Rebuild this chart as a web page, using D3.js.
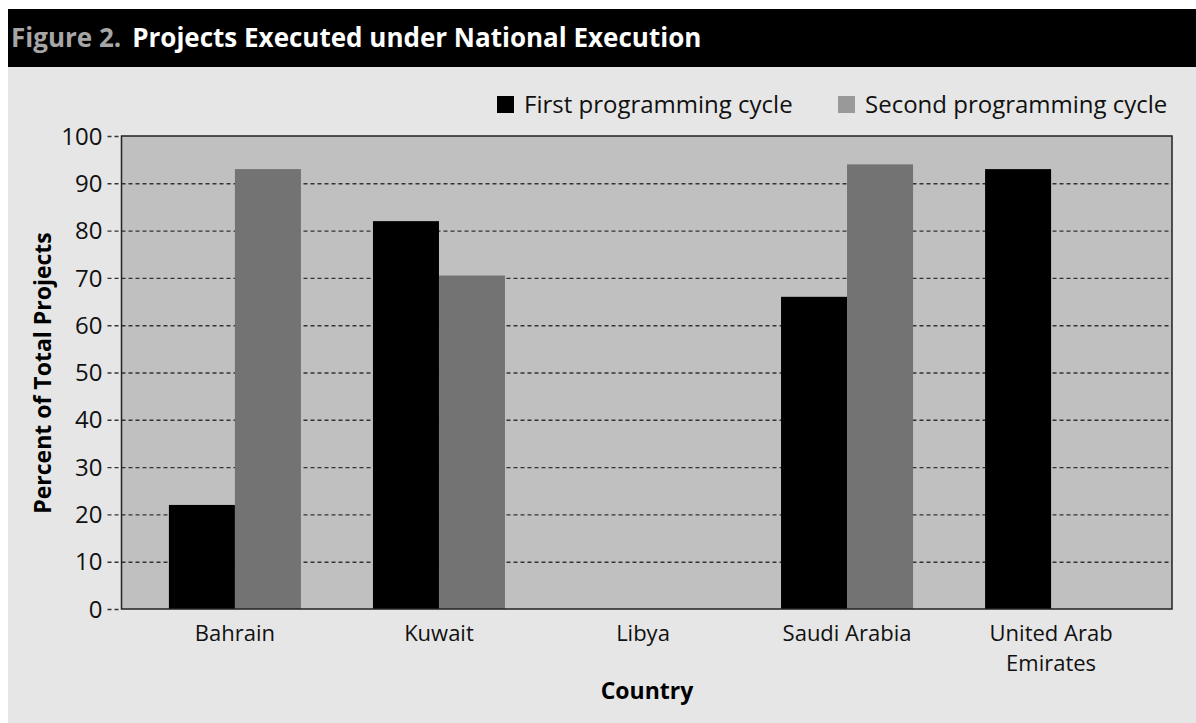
<!DOCTYPE html>
<html>
<head>
<meta charset="utf-8">
<script src="https://cdn.jsdelivr.net/npm/d3@7"></script>
<style>
  body { margin: 0; background: #fff; }
  svg { display: block; font-family: "Open Sans", "Noto Sans", sans-serif; }
</style>
</head>
<body>
<svg id="chart" width="1196" height="723"></svg>
<script>
// data
const countries = ['Bahrain', 'Kuwait', 'Libya', 'Saudi Arabia', 'United Arab Emirates'];
const firstCycle = [22, 82, 0, 66, 93];
const secondCycle = [93, 70.5, 0, 94, 0];
const seriesNames = ['First programming cycle', 'Second programming cycle'];
const yTicks = [0, 10, 20, 30, 40, 50, 60, 70, 80, 90, 100];

const svg = d3.select('#chart');
const W = 1196, H = 723;

// panel + title bar
svg.append('rect').attr('x', 8).attr('y', 9).attr('width', W - 8).attr('height', H - 9).attr('fill', '#e6e6e6');
svg.append('rect').attr('x', 8).attr('y', 9).attr('width', W - 8).attr('height', 58).attr('fill', '#000');

const title = svg.append('text').attr('x', 11).attr('y', 47)
  .attr('font-size', 26).attr('font-weight', 'bold');
title.append('tspan').attr('fill', '#a6a6a6').text('Figure 2.');
title.append('tspan').attr('fill', '#fff').attr('dx', 11).text('Projects Executed under National Execution');

const plot = {left: 121.5, right: 1172, top: 136, bottom: 609};

const y = d3.scaleLinear().domain([0, 100]).range([plot.bottom, plot.top]);
const x0 = d3.scaleBand().domain(countries).range([133, 1153]).paddingInner(0.353).paddingOuter(0.176);
const x1 = d3.scaleBand().domain([0, 1]).range([0, x0.bandwidth()]);
const colors = ['#000000', '#737373'];

// plot background
svg.append('rect')
  .attr('x', plot.left).attr('y', plot.top)
  .attr('width', plot.right - plot.left).attr('height', plot.bottom - plot.top)
  .attr('fill', '#c0c0c0');

// gridlines + dashed ticks
const dash = g => g.attr('stroke', '#333').attr('stroke-width', 1.4).attr('stroke-dasharray', '4,3');
svg.append('g')
  .attr('transform', `translate(${plot.left},0)`)
  .call(d3.axisLeft(y).tickValues(yTicks).tickSize(-(plot.right - plot.left)).tickPadding(19).tickFormat(d3.format('d')))
  .call(g => g.select('.domain').remove())
  .call(g => g.selectAll('.tick line').call(dash))
  .call(g => g.selectAll('.tick').filter(d => d === 100 || d === 0).select('line').attr('x2', 0))
  .call(g => g.selectAll('.tick').append('line').attr('x1', -14).attr('x2', 0).call(dash))
  .call(g => g.selectAll('.tick text').attr('font-size', 24).attr('fill', '#111')
      .attr('font-family', '"Open Sans", sans-serif').attr('dy', '0.34em'));

// bars
const rows = countries.map((c, i) => ({c, v: [firstCycle[i], secondCycle[i]]}));
const groups = svg.append('g').selectAll('g').data(rows).join('g')
  .attr('transform', d => `translate(${x0(d.c)},0)`);
groups.selectAll('rect').data(d => d.v.map((v, k) => ({v, k}))).join('rect')
  .attr('x', d => x1(d.k))
  .attr('y', d => y(d.v))
  .attr('width', x1.bandwidth())
  .attr('height', d => y(0) - y(d.v))
  .attr('fill', d => colors[d.k]);

// plot border
svg.append('rect')
  .attr('x', plot.left).attr('y', plot.top)
  .attr('width', plot.right - plot.left).attr('height', plot.bottom - plot.top)
  .attr('fill', 'none').attr('stroke', '#222').attr('stroke-width', 1.5);

// x labels (UAE wraps onto two lines)
const xl = svg.append('g').selectAll('text').data(countries).join('text')
  .attr('x', d => x0(d) + x0.bandwidth() / 2)
  .attr('y', 641)
  .attr('text-anchor', 'middle')
  .attr('font-size', 22)
  .attr('fill', '#111');
xl.each(function (d) {
  const el = d3.select(this);
  if (d === 'United Arab Emirates') {
    el.append('tspan').attr('x', x0(d) + x0.bandwidth() / 2).text('United Arab');
    el.append('tspan').attr('x', x0(d) + x0.bandwidth() / 2).attr('dy', 30).text('Emirates');
  } else {
    el.text(d);
  }
});

// axis titles
svg.append('text').attr('x', 647).attr('y', 699).attr('text-anchor', 'middle')
  .attr('font-size', 23).attr('font-weight', 'bold').attr('fill', '#000').text('Country');
svg.append('text').attr('transform', 'translate(51,373) rotate(-90)').attr('text-anchor', 'middle')
  .attr('font-size', 23).attr('font-weight', 'bold').attr('fill', '#000').text('Percent of Total Projects');

// legend
const legend = svg.append('g');
const legendX = [497, 838];
const legendColors = ['#000000', '#999999'];
seriesNames.forEach((name, i) => {
  legend.append('rect').attr('x', legendX[i]).attr('y', 96).attr('width', 17).attr('height', 17).attr('fill', legendColors[i]);
  legend.append('text').attr('x', legendX[i] + 27).attr('y', 113).attr('font-size', 24).attr('fill', '#111').text(name);
});
</script>
</body>
</html>
